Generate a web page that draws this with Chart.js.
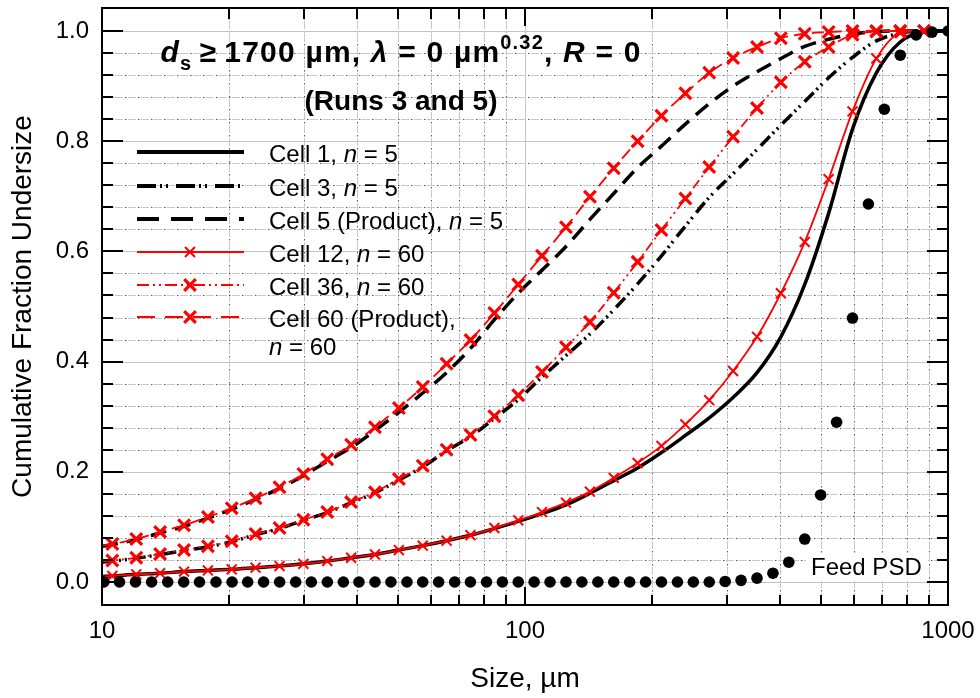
<!DOCTYPE html>
<html>
<head>
<meta charset="utf-8">
<script src="https://cdn.jsdelivr.net/npm/chart.js@4.4.1/dist/chart.umd.min.js"></script>
<style>
  body { margin: 0; background: #fff; }
  canvas { display: block; }
</style>
</head>
<body>
<canvas id="chart" width="980" height="698"></canvas>
<script>
const FONT = '"Liberation Sans", Arial, sans-serif';

// sizes (um) at which the simulated curves are listed; markers sit on all but the first and last
const sizes = [10, 10.58, 12.05, 13.72, 15.63, 17.80, 20.26, 23.07, 26.28, 29.93, 34.08, 38.81, 44.19,
  50.33, 57.31, 65.26, 74.33, 84.64, 96.38, 109.7, 125.0, 142.4, 162.1, 184.6, 210.2, 239.4, 272.6,
  310.4, 353.6, 402.6, 458.5, 522.1, 594.6, 677.1, 771.1, 878.1, 1000];

const cell1 = [0.010, 0.011, 0.014, 0.016, 0.019, 0.021, 0.023, 0.026, 0.029, 0.033, 0.038, 0.044, 0.050,
  0.058, 0.066, 0.075, 0.085, 0.097, 0.110, 0.124, 0.140, 0.161, 0.184, 0.207, 0.235, 0.266, 0.298,
  0.335, 0.380, 0.445, 0.540, 0.669, 0.822, 0.924, 0.980, 0.998, 1.0];
const cell3 = [0.036, 0.038, 0.043, 0.050, 0.057, 0.064, 0.073, 0.086, 0.097, 0.112, 0.126, 0.144, 0.162,
  0.185, 0.209, 0.238, 0.264, 0.297, 0.331, 0.372, 0.411, 0.450, 0.494, 0.541, 0.592, 0.646, 0.698,
  0.741, 0.785, 0.829, 0.872, 0.915, 0.952, 0.982, 0.996, 1.0, 1.0];
const cell5 = [0.065, 0.068, 0.077, 0.089, 0.101, 0.116, 0.132, 0.150, 0.170, 0.193, 0.219, 0.244, 0.275,
  0.308, 0.343, 0.380, 0.424, 0.476, 0.524, 0.566, 0.609, 0.658, 0.705, 0.752, 0.791, 0.831, 0.868,
  0.900, 0.926, 0.950, 0.972, 0.985, 0.994, 0.999, 1.0, 1.0, 1.0];
const cell12 = [0.010, 0.011, 0.014, 0.016, 0.019, 0.021, 0.023, 0.026, 0.029, 0.033, 0.038, 0.044, 0.050,
  0.058, 0.066, 0.075, 0.085, 0.098, 0.112, 0.127, 0.144, 0.164, 0.189, 0.216, 0.247, 0.286, 0.330,
  0.383, 0.445, 0.524, 0.617, 0.731, 0.854, 0.950, 0.996, 1.0, 1.0];
const cell36 = [0.037, 0.039, 0.044, 0.051, 0.058, 0.065, 0.074, 0.087, 0.098, 0.113, 0.127, 0.145, 0.163,
  0.187, 0.211, 0.240, 0.267, 0.301, 0.339, 0.381, 0.426, 0.472, 0.525, 0.581, 0.639, 0.696, 0.753,
  0.808, 0.860, 0.907, 0.944, 0.971, 0.993, 0.999, 1.0, 1.0, 1.0];
const cell60 = [0.066, 0.069, 0.078, 0.091, 0.103, 0.118, 0.134, 0.152, 0.172, 0.196, 0.223, 0.249, 0.281,
  0.316, 0.354, 0.396, 0.439, 0.488, 0.540, 0.592, 0.644, 0.699, 0.751, 0.800, 0.846, 0.887, 0.924,
  0.951, 0.971, 0.987, 0.995, 0.998, 1.0, 1.0, 1.0, 1.0, 1.0];

// feed particle size distribution
const feedSizes = [10.1, 11.0, 12.0, 13.1, 14.3, 15.6, 17.0, 18.6, 20.3, 22.1, 24.1, 26.3, 28.7, 31.25,
  34.1, 37.2, 40.5, 44.2, 48.2, 52.6, 57.3, 62.5, 68.2, 74.3, 81.1, 88.4, 96.4, 105.1, 114.6, 125.0,
  136.3, 148.7, 162.1, 176.8, 192.8, 210.2, 229.3, 250.0, 272.6, 297.3, 324.2, 353.6, 385.6, 420.4,
  458.5, 500.0, 545.3, 594.6, 648.4, 707.1, 771.1, 840.9, 917.0, 1000];
const feedPSD = [0, 0, 0, 0, 0, 0, 0, 0, 0, 0, 0, 0, 0, 0, 0, 0, 0, 0, 0, 0, 0, 0, 0, 0, 0, 0, 0, 0, 0, 0,
  0, 0, 0, 0, 0, 0, 0, 0, 0, 0.001, 0.003, 0.007, 0.016, 0.036, 0.078, 0.158, 0.290, 0.479, 0.686,
  0.858, 0.956, 0.993, 0.998, 1.0];

const xTicks = [10, 100, 1000];
const xMinor = [20, 30, 40, 50, 60, 70, 80, 90, 200, 300, 400, 500, 600, 700, 800, 900];
const yTicks = [0, 0.2, 0.4, 0.6, 0.8, 1.0];
const yMinor = [0.04, 0.08, 0.12, 0.16, 0.24, 0.28, 0.32, 0.36, 0.44, 0.48, 0.52, 0.56,
  0.64, 0.68, 0.72, 0.76, 0.84, 0.88, 0.92, 0.96];

function pts(xs, ys) {
  return xs.map((x, i) => ({ x: x, y: ys[i] }));
}

const lastIdx = sizes.length - 1;
function markerSize(r) {
  return c => (c.dataIndex === 0 || c.dataIndex === lastIdx) ? 0 : r;
}

const dashDotDotBlack = [13, 4, 2, 4, 2, 6];
const dashDotDotRed = [10, 4, 2, 4, 2, 4];

function lineSet(label, ys, color, width, dash, order) {
  return {
    label: label, data: pts(sizes, ys), borderColor: color, borderWidth: width,
    borderDash: dash, pointRadius: 0, cubicInterpolationMode: 'monotone', fill: false, order: order
  };
}
function markedSet(label, ys, dash, r, pw) {
  const d = lineSet(label, ys, '#ff0000', 1.8, dash, 2);
  d.pointStyle = 'crossRot';
  d.pointRadius = markerSize(r);
  d.pointBorderWidth = pw;
  d.pointBorderColor = '#ff0000';
  d.pointBackgroundColor = '#ff0000';
  return d;
}

function hline(ctx, x0, x1, y) { ctx.beginPath(); ctx.moveTo(x0, y); ctx.lineTo(x1, y); ctx.stroke(); }
function vline(ctx, x, y0, y1) { ctx.beginPath(); ctx.moveTo(x, y0); ctx.lineTo(x, y1); ctx.stroke(); }

function drawRuns(ctx, runs, x, y, align) {
  let w = 0;
  runs.forEach(r => { ctx.font = r[1]; w += ctx.measureText(r[0]).width; });
  let cx = align === 'center' ? x - w / 2 : x;
  runs.forEach(r => {
    ctx.font = r[1];
    ctx.fillText(r[0], cx, y + (r[2] || 0));
    cx += ctx.measureText(r[0]).width;
  });
}

function noPad(s) {
  s.paddingLeft = 0; s.paddingRight = 0; s.paddingTop = 0; s.paddingBottom = 0;
}

const gridPlugin = {
  id: 'originGrid',
  beforeDatasetsDraw(chart) {
    const { ctx, chartArea: a, scales: { x, y } } = chart;
    ctx.save();
    ctx.lineWidth = 1;
    // minor grid: light dashes with dark dots
    const minorX = xMinor.map(v => Math.round(x.getPixelForValue(v)) + 0.5);
    const minorY = yMinor.map(v => Math.round(y.getPixelForValue(v)) + 0.5);
    ctx.strokeStyle = '#c8c8c8';
    ctx.setLineDash([8, 5]);
    minorX.forEach(px => vline(ctx, px, a.top, a.bottom));
    minorY.forEach(py => hline(ctx, a.left, a.right, py));
    ctx.strokeStyle = '#555';
    ctx.setLineDash([1.5, 11.5]);
    ctx.lineDashOffset = -10;
    minorX.forEach(px => vline(ctx, px, a.top, a.bottom));
    minorY.forEach(py => hline(ctx, a.left, a.right, py));
    // major grid
    ctx.setLineDash([]);
    ctx.lineDashOffset = 0;
    ctx.strokeStyle = '#c4c4c4';
    xTicks.forEach(v => vline(ctx, Math.round(x.getPixelForValue(v)) + 0.5, a.top, a.bottom));
    yTicks.forEach(v => hline(ctx, a.left, a.right, Math.round(y.getPixelForValue(v)) + 0.5));
    ctx.restore();
  },
  afterDatasetsDraw(chart) {
    const { ctx, chartArea: a, scales: { x, y } } = chart;
    ctx.save();
    // feed label with white box
    ctx.fillStyle = '#fff';
    ctx.fillRect(806, 553, 122, 28);
    ctx.fillStyle = '#000';
    ctx.font = `24px ${FONT}`;
    ctx.textBaseline = 'alphabetic';
    ctx.fillText('Feed PSD', 811, 575);

    // frame + inward ticks
    ctx.strokeStyle = '#000';
    ctx.lineWidth = 2;
    ctx.strokeRect(a.left, a.top, a.right - a.left, a.bottom - a.top);
    yTicks.forEach(v => {
      const py = Math.round(y.getPixelForValue(v));
      hline(ctx, a.left, a.left + 21, py);
      hline(ctx, a.right - 21, a.right, py);
    });
    yMinor.forEach(v => {
      const py = Math.round(y.getPixelForValue(v));
      hline(ctx, a.left, a.left + 11, py);
      hline(ctx, a.right - 11, a.right, py);
    });
    xTicks.forEach(v => {
      const px = Math.round(x.getPixelForValue(v));
      vline(ctx, px, a.bottom - 18, a.bottom);
      vline(ctx, px, a.top, a.top + 18);
    });
    xMinor.forEach(v => {
      const px = Math.round(x.getPixelForValue(v));
      vline(ctx, px, a.bottom - 10, a.bottom);
      vline(ctx, px, a.top, a.top + 11);
    });

    // title
    const b = `bold 30px ${FONT}`, bi = `italic bold 30px ${FONT}`, bs = `bold 20px ${FONT}`;
    ctx.letterSpacing = '1.2px';
    drawRuns(ctx, [['d', bi], ['s', bs, 8], ['\u2009\u2265\u2009', b], ['1700 \u00b5m, ', b], ['\u03bb', bi],
      [' = 0 \u00b5m', b], ['0.32', bs, -13], [', ', b], ['R', bi], [' = 0', b]], 401, 62, 'center');
    ctx.letterSpacing = '0px';
    drawRuns(ctx, [['(Runs 3 and 5)', `bold 28px ${FONT}`]], 401, 110, 'center');

    // legend
    const reg = `24px ${FONT}`, it = `italic 24px ${FONT}`;
    const rows = [
      { y: 152, color: '#000', w: 4, dash: [], mark: 0, runs: [['Cell 1, ', reg], ['n', it], [' = 5', reg]] },
      { y: 186, color: '#000', w: 4, dash: [19, 4, 2, 4, 2, 8], mark: 0, runs: [['Cell 3, ', reg], ['n', it], [' = 5', reg]] },
      { y: 219, color: '#000', w: 4, dash: [22, 12], mark: 0, runs: [['Cell 5 (Product), ', reg], ['n', it], [' = 5', reg]] },
      { y: 252, color: '#ff0000', w: 2, dash: [], mark: 2, runs: [['Cell 12, ', reg], ['n', it], [' = 60', reg]] },
      { y: 285, color: '#ff0000', w: 2, dash: [12, 4, 2, 4, 2, 4], mark: 3.2, runs: [['Cell 36, ', reg], ['n', it], [' = 60', reg]] },
      { y: 317, color: '#ff0000', w: 2, dash: [18, 10], mark: 3.2, runs: [['Cell 60 (Product),', reg]] }
    ];
    rows.forEach(r => {
      ctx.strokeStyle = r.color;
      ctx.lineWidth = r.w;
      ctx.setLineDash(r.dash);
      hline(ctx, 137, 244, r.y);
      ctx.setLineDash([]);
      if (r.mark) {
        ctx.lineWidth = r.mark;
        const s = r.mark > 2 ? 5.8 : 5;
        ctx.beginPath();
        ctx.moveTo(190 - s, r.y - s); ctx.lineTo(190 + s, r.y + s);
        ctx.moveTo(190 - s, r.y + s); ctx.lineTo(190 + s, r.y - s);
        ctx.stroke();
      }
      ctx.fillStyle = '#000';
      drawRuns(ctx, r.runs, 269, r.y + 9.5, 'left');
    });
    drawRuns(ctx, [['n', it], [' = 60', reg]], 269, 355, 'left');
    ctx.restore();
  }
};

new Chart(document.getElementById('chart'), {
  type: 'line',
  data: {
    datasets: [
      lineSet('Cell 1, n = 5', cell1, '#000', 3.5, [], 3),
      lineSet('Cell 3, n = 5', cell3, '#000', 3.5, dashDotDotBlack, 3),
      lineSet('Cell 5 (Product), n = 5', cell5, '#000', 3.5, [16, 9], 3),
      markedSet('Cell 12, n = 60', cell12, [], 7, 2),
      markedSet('Cell 36, n = 60', cell36, dashDotDotRed, 8.3, 3.2),
      markedSet('Cell 60 (Product), n = 60', cell60, [12, 6], 8.3, 3.2),
      {
        label: 'Feed PSD', data: pts(feedSizes, feedPSD), showLine: false,
        pointStyle: 'circle', pointRadius: 5.8, pointBorderWidth: 0,
        pointBackgroundColor: '#000', borderColor: '#000', order: 1
      }
    ]
  },
  options: {
    responsive: false,
    animation: false,
    devicePixelRatio: 1,
    layout: { padding: { left: 0, right: 32, top: 8, bottom: 0 } },
    plugins: { legend: { display: false }, tooltip: { enabled: false } },
    scales: {
      x: {
        type: 'logarithmic', min: 10, max: 1000,
        afterBuildTicks: s => { s.ticks = xTicks.map(v => ({ value: v })); },
        afterFit: s => { s.height = 93; noPad(s); },
        ticks: {
          callback: v => String(v), color: '#000', font: { family: FONT, size: 24 },
          padding: 12, maxRotation: 0, autoSkip: false
        },
        grid: { display: false, drawTicks: false },
        border: { display: false },
        title: {
          display: true, text: 'Size, \u00b5m', color: '#000',
          font: { family: FONT, size: 28 }, padding: { top: 0, bottom: 2 }
        }
      },
      y: {
        min: -0.0417, max: 1.0417,
        afterBuildTicks: s => { s.ticks = yTicks.map(v => ({ value: v })); },
        afterFit: s => { s.width = 102; noPad(s); },
        ticks: {
          callback: v => v.toFixed(1), color: '#000', font: { family: FONT, size: 24 }, padding: 13
        },
        grid: { display: false, drawTicks: false },
        border: { display: false },
        title: {
          display: true, text: 'Cumulative Fraction Undersize', color: '#000',
          font: { family: FONT, size: 28 }, padding: { top: 6, bottom: 0 }
        }
      }
    }
  },
  plugins: [gridPlugin]
});
</script>
</body>
</html>
